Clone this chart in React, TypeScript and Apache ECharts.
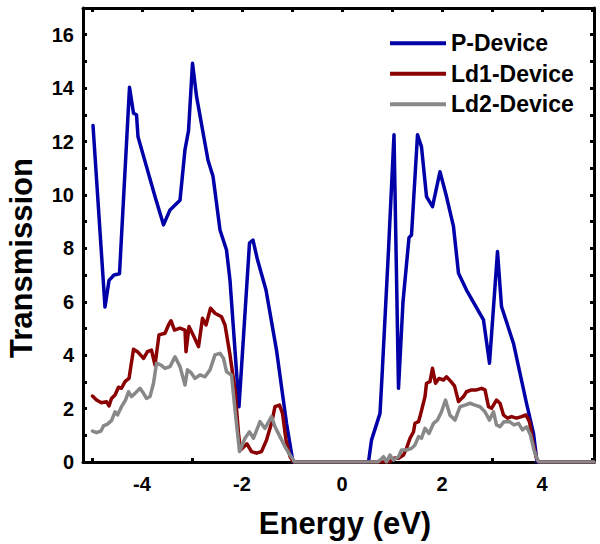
import React, { useEffect, useRef } from "react";
import * as echarts from "echarts";

const seriesNames = ["P-Device", "Ld1-Device", "Ld2-Device"];

const pEnergy = [-4.98, -4.74, -4.66, -4.56, -4.45, -4.25, -4.17, -4.11, -4.08, -3.91, -3.74, -3.57, -3.44, -3.24, -3.14, -3.07, -2.99, -2.91, -2.68, -2.58, -2.44, -2.31, -2.24, -2.06, -1.85, -1.78, -1.69, -1.52, -1.31, -1.11, -1.01, -0.98, 0.53, 0.59, 0.76, 0.8, 0.93, 1.04, 1.13, 1.22, 1.34, 1.39, 1.51, 1.59, 1.69, 1.81, 1.96, 2.09, 2.23, 2.33, 2.49, 2.83, 2.95, 3.11, 3.19, 3.43, 3.69, 3.83, 3.9, 5.04];
const pTrans = [12.6, 5.8, 6.8, 7.0, 7.05, 14.03, 13.06, 13.0, 12.18, 11.06, 9.94, 8.88, 9.44, 9.8, 11.7, 12.4, 14.93, 13.7, 11.3, 10.7, 8.69, 7.94, 6.8, 2.07, 8.2, 8.31, 7.57, 6.44, 4.19, 1.45, 0.33, 0, 0, 0.82, 1.82, 3.2, 7.94, 12.25, 2.76, 6.0, 8.4, 8.5, 12.25, 11.8, 9.94, 9.56, 10.87, 9.94, 8.81, 7.07, 6.44, 5.32, 3.7, 7.88, 5.82, 4.44, 2.2, 1.07, 0, 0];

const ld1Energy = [-4.99, -4.91, -4.81, -4.71, -4.66, -4.61, -4.54, -4.47, -4.41, -4.34, -4.26, -4.17, -4.09, -3.97, -3.89, -3.81, -3.74, -3.66, -3.54, -3.47, -3.42, -3.35, -3.24, -3.14, -3.12, -3.06, -2.96, -2.87, -2.79, -2.72, -2.63, -2.54, -2.41, -2.34, -2.24, -2.14, -2.07, -2.03, -1.9, -1.81, -1.71, -1.61, -1.51, -1.41, -1.34, -1.25, -1.19, -1.12, -1.04, -0.97, 0.95, 1.05, 1.13, 1.23, 1.29, 1.36, 1.43, 1.46, 1.53, 1.56, 1.66, 1.69, 1.76, 1.81, 1.87, 1.94, 2.03, 2.09, 2.18, 2.25, 2.33, 2.43, 2.49, 2.59, 2.69, 2.79, 2.86, 2.93, 2.99, 3.09, 3.16, 3.23, 3.31, 3.39, 3.49, 3.59, 3.68, 3.75, 3.81, 3.88, 3.93, 5.04];
const ld1Trans = [2.47, 2.32, 2.22, 2.26, 2.1, 2.38, 2.51, 2.8, 2.76, 3.01, 3.13, 4.22, 4.13, 3.88, 4.13, 4.19, 3.63, 4.76, 4.82, 5.13, 5.29, 4.94, 5.01, 4.94, 4.13, 5.07, 4.69, 4.32, 5.38, 5.13, 5.76, 5.57, 5.44, 5.13, 4.01, 2.7, 1.07, 0.45, 0.68, 0.39, 0.33, 0.39, 0.82, 1.45, 2.07, 2.13, 1.82, 0.82, 0.2, 0, 0, 0.15, 0.14, 0.26, 0.51, 0.89, 1.13, 1.45, 1.51, 1.7, 2.45, 2.95, 3.01, 3.51, 2.95, 3.13, 3.07, 3.19, 3.01, 2.85, 2.26, 2.45, 2.63, 2.7, 2.7, 2.76, 2.7, 2.07, 2.01, 2.32, 2.2, 1.76, 1.64, 1.7, 1.64, 1.7, 1.76, 1.51, 0.82, 0.2, 0, 0];

const ld2Energy = [-4.99, -4.91, -4.82, -4.77, -4.69, -4.61, -4.54, -4.49, -4.41, -4.33, -4.27, -4.21, -4.14, -4.04, -3.97, -3.91, -3.84, -3.77, -3.71, -3.62, -3.54, -3.44, -3.34, -3.24, -3.14, -3.09, -3.02, -2.94, -2.84, -2.74, -2.64, -2.54, -2.44, -2.37, -2.31, -2.21, -2.14, -2.05, -1.94, -1.85, -1.77, -1.64, -1.54, -1.41, -1.34, -1.24, -1.14, -1.04, -0.97, -0.95, 0.72, 0.76, 0.83, 0.89, 0.96, 1.03, 1.13, 1.19, 1.29, 1.39, 1.46, 1.53, 1.59, 1.66, 1.74, 1.83, 1.91, 1.99, 2.07, 2.16, 2.26, 2.36, 2.46, 2.56, 2.66, 2.76, 2.86, 2.95, 3.03, 3.09, 3.16, 3.24, 3.35, 3.44, 3.53, 3.61, 3.69, 3.77, 3.84, 3.91, 3.94, 5.04];
const ld2Trans = [1.16, 1.1, 1.16, 1.35, 1.42, 1.55, 1.88, 1.76, 2.07, 2.32, 2.63, 2.45, 2.57, 2.76, 2.57, 2.38, 2.45, 2.95, 3.7, 3.63, 3.51, 3.57, 3.94, 3.57, 2.88, 3.45, 3.35, 3.13, 3.26, 3.19, 3.45, 4.01, 4.07, 3.88, 3.38, 3.26, 1.95, 0.39, 0.89, 1.13, 0.89, 1.51, 1.26, 1.7, 1.32, 0.95, 0.57, 0.26, 0.07, 0, 0, 0.07, 0.2, 0, 0.26, 0.07, 0.2, 0.45, 0.45, 0.51, 0.64, 0.95, 0.89, 1.26, 1.07, 1.45, 1.57, 1.88, 2.32, 1.75, 1.57, 2.07, 2.13, 2.2, 2.13, 2.07, 1.88, 1.57, 1.88, 1.39, 1.32, 1.51, 1.51, 1.39, 1.45, 1.2, 1.32, 1.01, 0.45, 0.07, 0, 0];

const xLabelValues = [-4, -2, 0, 2, 4];
const xBottomTicks = [-5, -3, -1, 1, 3, 5];
const xTopTicks = [-5, -4, -3, -2, -1, 0, 1, 2, 3, 4, 5];
const yLabelValues = [0, 2, 4, 6, 8, 10, 12, 14, 16];
const yTicks = [0, 1, 2, 3, 4, 5, 6, 7, 8, 9, 10, 11, 12, 13, 14, 15, 16, 17];

const colors = ["#0000A8", "#8B0000", "#888888"];
const FONT = 'Arial, "Liberation Sans", sans-serif';

const zip = (xs: number[], ys: number[]) => xs.map((x, i) => [x, ys[i]]);

export default function App() {
  const ref = useRef<HTMLDivElement>(null);
  useEffect(() => {
    if (!ref.current) return;
    const chart = echarts.init(ref.current, null, { renderer: "svg" });
    const axisLine = { show: true, onZero: false, lineStyle: { color: "#000", width: 3 } };
    const tickStyle = { color: "#000", width: 3 };
    chart.setOption({
      animation: false,
      backgroundColor: "#fff",
      grid: { left: 83, right: 6, top: 8, bottom: 82, containLabel: false },
      legend: {
        left: 390,
        top: 28,
        padding: 0,
        orient: "vertical",
        icon: "rect",
        itemWidth: 56,
        itemHeight: 4,
        itemGap: 0,
        data: seriesNames,
        textStyle: { fontFamily: FONT, fontWeight: "bold", fontSize: 23, color: "#000", lineHeight: 30.5 },
      },
      xAxis: [
        {
          type: "value",
          position: "bottom",
          min: -5.18,
          max: 5.04,
          axisLine,
          splitLine: { show: false },
          axisTick: { inside: true, length: 4, lineStyle: tickStyle, customValues: xBottomTicks },
          axisLabel: { customValues: xLabelValues, margin: 12, fontFamily: FONT, fontWeight: "bold", fontSize: 20, color: "#000" },
        },
        {
          type: "value",
          position: "top",
          min: -5.18,
          max: 5.04,
          axisLine,
          splitLine: { show: false },
          axisTick: { inside: true, length: 4, lineStyle: tickStyle, customValues: xTopTicks },
          axisLabel: { show: false },
        },
      ],
      yAxis: [
        {
          type: "value",
          position: "left",
          min: 0,
          max: 17,
          axisLine,
          splitLine: { show: false },
          axisTick: { inside: true, length: 4, lineStyle: tickStyle, customValues: yTicks },
          axisLabel: { customValues: yLabelValues, margin: 9, fontFamily: FONT, fontWeight: "bold", fontSize: 20, color: "#000" },
        },
        {
          type: "value",
          position: "right",
          min: 0,
          max: 17,
          axisLine,
          splitLine: { show: false },
          axisTick: { inside: true, length: 4, lineStyle: tickStyle, customValues: yTicks },
          axisLabel: { show: false },
        },
      ],
      graphic: [
        {
          type: "text",
          x: 345,
          y: 523,
          style: { text: "Energy (eV)", fontFamily: FONT, fontWeight: "bold", fontSize: 31, fill: "#000", align: "center", verticalAlign: "middle" },
        },
        {
          type: "text",
          x: 21,
          y: 258,
          rotation: Math.PI / 2,
          style: { text: "Transmission", fontFamily: FONT, fontWeight: "bold", fontSize: 31, fill: "#000", align: "center", verticalAlign: "middle" },
        },
      ],
      series: [
        { name: seriesNames[0], data: zip(pEnergy, pTrans) },
        { name: seriesNames[1], data: zip(ld1Energy, ld1Trans) },
        { name: seriesNames[2], data: zip(ld2Energy, ld2Trans) },
      ].map((s, i) => ({
        ...s,
        type: "line",
        xAxisIndex: 0,
        yAxisIndex: 0,
        showSymbol: false,
        symbol: "none",
        color: colors[i],
        lineStyle: { color: colors[i], width: 3.5, join: "round", cap: "round" },
      })),
    });
    return () => chart.dispose();
  }, []);
  return <div ref={ref} style={{ width: 600, height: 544, position: "absolute", left: 0, top: 0 }} />;
}
